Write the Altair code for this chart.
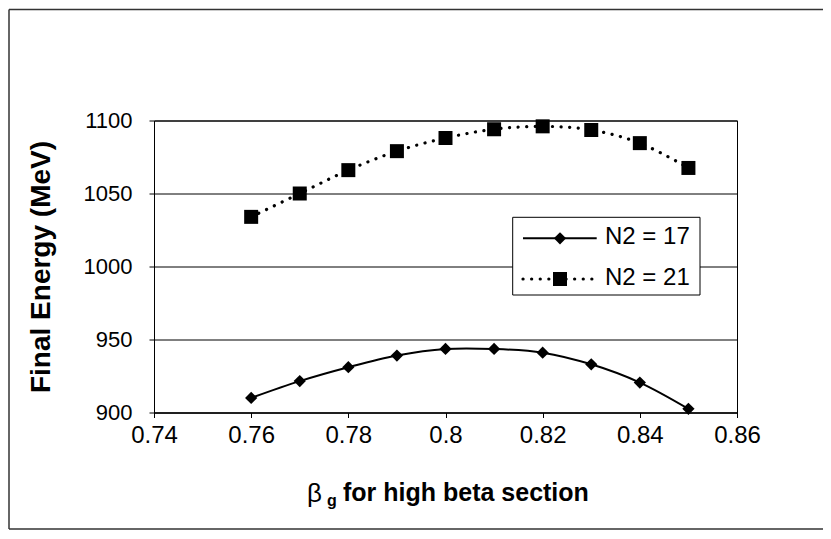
import altair as alt
import pandas as pd

# ---- data ----
beta_g = [0.76, 0.77, 0.78, 0.79, 0.80, 0.81, 0.82, 0.83, 0.84, 0.85]
energy_n17 = [910, 921.5, 931, 939, 943.5, 943.5, 941, 933, 920.5, 902.5]
energy_n21 = [1034, 1050, 1066, 1079, 1088, 1094, 1096, 1093.5, 1084.5, 1067.5]
series_labels = ["N2 = 17", "N2 = 21"]
x_ticks = [0.74, 0.76, 0.78, 0.80, 0.82, 0.84, 0.86]
y_ticks = [900, 950, 1000, 1050, 1100]
x_title_parts = ["β", "g", "for high beta section"]
y_title = "Final Energy (MeV)"

df = pd.DataFrame({
    "beta": beta_g + beta_g,
    "energy": energy_n17 + energy_n21,
    "series": [series_labels[0]] * len(beta_g) + [series_labels[1]] * len(beta_g),
})

W, H = 583, 292
FONT = "Liberation Sans"

x_enc = alt.X(
    "beta:Q",
    scale=alt.Scale(domain=[0.74, 0.86], nice=False, zero=False),
    axis=alt.Axis(values=x_ticks, format="~g", grid=False, title="",
                  labelFontSize=24, labelFont=FONT, labelColor="black",
                  labelPadding=6, tickSize=5, tickColor="black",
                  domainColor="black", labelFlush=False),
)
y_enc = alt.Y(
    "energy:Q",
    scale=alt.Scale(domain=[900, 1100], nice=False, zero=False),
    axis=alt.Axis(values=y_ticks, format="d", grid=True, gridColor="black", gridOpacity=1,
                  title=y_title, titleFont=FONT, titleFontSize=28,
                  titleFontWeight="bold", titleColor="black", titlePadding=28,
                  labelFontSize=22, labelFont=FONT, labelColor="black",
                  labelPadding=17, tickSize=5, tickColor="black",
                  domainColor="black"),
)

base = alt.Chart(df)
s17 = base.transform_filter(alt.datum.series == series_labels[0])
s21 = base.transform_filter(alt.datum.series == series_labels[1])

line17 = s17.mark_line(interpolate="catmull-rom", color="black", strokeWidth=2).encode(x=x_enc, y=y_enc)
pts17 = s17.mark_point(shape="diamond", filled=True, size=150, color="black", opacity=1).encode(x=x_enc, y=y_enc)
line21 = s21.mark_line(interpolate="catmull-rom", color="black", strokeWidth=3.2,
                       strokeDash=[0.1, 8.5], strokeCap="round").encode(x=x_enc, y=y_enc)
pts21 = s21.mark_point(shape="square", filled=True, size=196, color="black", opacity=1).encode(x=x_enc, y=y_enc)

one = pd.DataFrame({"k": [0]})

# legend (manual, Excel style)
leg_box = alt.Chart(one).mark_rect(fill="white", stroke="black", strokeWidth=1).encode(
    x=alt.value(358.7), x2=alt.value(546), y=alt.value(96.8), y2=alt.value(174.5))
leg_ys = [117.8, 158.5]
leg_layers = [leg_box]
leg_layers.append(alt.Chart(one).mark_rule(color="black", strokeWidth=2).encode(
    x=alt.value(369), x2=alt.value(442.7), y=alt.value(leg_ys[0])))
leg_layers.append(alt.Chart(one).mark_rule(color="black", strokeWidth=3.2, strokeDash=[0.1, 8.5], strokeCap="round").encode(
    x=alt.value(369), x2=alt.value(442.7), y=alt.value(leg_ys[1])))
leg_layers.append(alt.Chart(one).mark_point(shape="diamond", filled=True, size=150, color="black", opacity=1).encode(
    x=alt.value(406), y=alt.value(leg_ys[0])))
leg_layers.append(alt.Chart(one).mark_point(shape="square", filled=True, size=196, color="black", opacity=1).encode(
    x=alt.value(406), y=alt.value(leg_ys[1])))
for i, lab in enumerate(series_labels):
    leg_layers.append(alt.Chart(one).mark_text(align="left", baseline="alphabetic", font=FONT,
                                                fontSize=24, color="black").encode(
        x=alt.value(451), y=alt.value(leg_ys[i] + 6), text=alt.value(lab)))

# x axis title with subscript
xt = [
    alt.Chart(one).mark_text(align="left", baseline="alphabetic", font=FONT, fontSize=26,
                             color="black").encode(x=alt.value(153), y=alt.value(381), text=alt.value(x_title_parts[0])),
    alt.Chart(one).mark_text(align="left", baseline="alphabetic", font=FONT, fontSize=16, fontWeight="bold",
                             color="black").encode(x=alt.value(173), y=alt.value(385), text=alt.value(x_title_parts[1])),
    alt.Chart(one).mark_text(align="left", baseline="alphabetic", font=FONT, fontSize=25, fontWeight="bold",
                             color="black").encode(x=alt.value(189), y=alt.value(380.5), text=alt.value(x_title_parts[2])),
]

# outer frame of the figure
frame = [
    alt.Chart(one).mark_rule(color="#333333", strokeWidth=1.5).encode(
        x=alt.value(-145), y=alt.value(-111), y2=alt.value(408.5)),
    alt.Chart(one).mark_rule(color="#333333", strokeWidth=1.5).encode(
        x=alt.value(-145), x2=alt.value(669), y=alt.value(-111)),
    alt.Chart(one).mark_rule(color="#333333", strokeWidth=1.5).encode(
        x=alt.value(-145), x2=alt.value(669), y=alt.value(408.5)),
]

chart = alt.layer(line17, pts17, line21, pts21, *leg_layers, *xt, *frame).properties(
    width=W, height=H,
    padding={"left": 146, "top": 112.5, "right": 86, "bottom": 118},
    autosize=alt.AutoSizeParams(type="none"),
    background="white",
).configure_view(stroke="black", strokeWidth=1)

chart.save("out.html", embed_options={"renderer": "svg", "actions": False})
